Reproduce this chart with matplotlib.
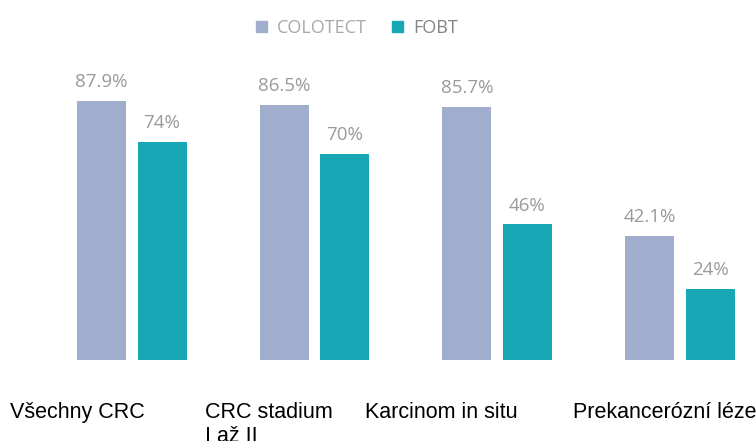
import numpy as np
import matplotlib.pyplot as plt
import matplotlib.patches as patches

categories = ["Všechny CRC", "CRC stadium\nI až II", "Karcinom in situ", "Prekancerózní léze"]
colotect = [87.9, 86.5, 85.7, 42.1]
fobt = [74, 70, 46, 24]
colotect_labels = ["87.9%", "86.5%", "85.7%", "42.1%"]
fobt_labels = ["74%", "70%", "46%", "24%"]

c_colotect = "#a1adcc"
c_fobt = "#18a8b5"
c_text = "#9a9a9a"

fig = plt.figure(figsize=(7.56, 4.41), dpi=100)
# axes spans full width; baseline at y=360px, value 100 at y=65px
ax = fig.add_axes([0, 81 / 441, 1, 295 / 441])
ax.set_xlim(-0.721, 3.417)
ax.set_ylim(0, 100)
ax.axis("off")

x = np.arange(len(categories))
w = 0.268
off = 0.166
ax.bar(x - off, colotect, w, color=c_colotect)
ax.bar(x + off, fobt, w, color=c_fobt)

for i in range(len(x)):
    ax.annotate(colotect_labels[i], (x[i] - off, colotect[i]), xytext=(0, 7),
                textcoords="offset points", ha="center", va="bottom",
                fontsize=13.5, color=c_text, family="Open Sans")
    ax.annotate(fobt_labels[i], (x[i] + off, fobt[i]), xytext=(0, 7),
                textcoords="offset points", ha="center", va="bottom",
                fontsize=13.5, color=c_text, family="Open Sans")

# legend at the top
handles = [patches.Patch(color=c_colotect, label="COLOTECT"),
           patches.Patch(color=c_fobt, label="FOBT")]
leg = fig.legend(handles=handles, loc="center", bbox_to_anchor=(357 / 756, 1 - 28 / 441),
                 ncol=2, frameon=False, handlelength=0.6, handleheight=0.6,
                 handletextpad=0.55, columnspacing=1.4,
                 prop={"family": "Open Sans", "size": 13})
leg.get_texts()[0].set_color("#a8a8a8")
leg.get_texts()[1].set_color("#858585")

# category labels below the chart
label_x = [10, 205, 365, 573]
for lx, cat in zip(label_x, categories):
    for j, line in enumerate(cat.split("\n")):
        fig.text(lx / 756, 1 - (418 + 24 * j) / 441, line, ha="left", va="baseline",
                 fontsize=15.5, color="black", family="Liberation Sans")

fig.savefig("out.png", dpi=100)
